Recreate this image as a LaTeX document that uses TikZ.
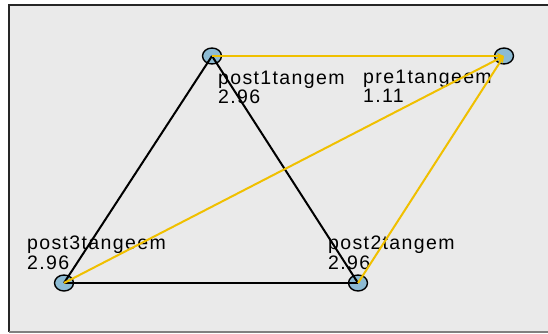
\documentclass[tikz,border=0pt]{standalone}
\usepackage{fontspec}
\setmainfont{Liberation Sans}[LetterSpace=7]
\usetikzlibrary{arrows.meta}
\definecolor{bgray}{HTML}{EAEAEA}
\definecolor{nodeblue}{HTML}{8DBBD3}
\definecolor{edgeyellow}{HTML}{F0C000}
\tikzset{
  vert/.style={ellipse, draw=black, line width=1.4pt, fill=nodeblue, minimum width=19pt, minimum height=16pt, inner sep=0pt},
  lbl/.style={anchor=base west, inner sep=0pt, font=\fontsize{19.5}{20}\selectfont},
  blackedge/.style={draw=black, line width=2pt},
  yeledge/.style={draw=edgeyellow, line width=2pt, -{Stealth[length=7pt,width=6pt]}},
}
\usetikzlibrary{shapes.geometric}
\begin{document}
\begin{tikzpicture}[x=1pt,y=-1pt]
\useasboundingbox (0,0) rectangle (548,334);
\fill[bgray] (9,5) rectangle (548,332);
\draw[line width=1.5pt, black!85] (548,5) -- (9,5) -- (9,332);
\draw[line width=1.5pt, black!50] (9,332) -- (548,332);
\node[vert] (post1) at (212,56) {};
\node[vert] (pre1) at (504,56) {};
\node[vert] (post3) at (64,283) {};
\node[vert] (post2) at (358,283) {};
\node[lbl] (l1a) at (218,85) {post1tangem};
\node[lbl] (l1b) at (218,103.5) {2.96};
\node[lbl] (l2a) at (363,84) {pre1tangeem};
\node[lbl] (l2b) at (363,102.5) {1.11};
\node[lbl] (l3a) at (27,249) {post3tangeem};
\node[lbl] (l3b) at (27,269) {2.96};
\node[lbl] (l4a) at (328,249) {post2tangem};
\node[lbl] (l4b) at (328,269) {2.96};
\draw[blackedge] (post3.center) -- (post1.center);
\draw[blackedge] (post1.center) -- (post2.center);
\draw[blackedge] (post3.center) -- (post2.center);
\draw[yeledge] (post1.center) -- (pre1.center);
\draw[yeledge] (post3.center) -- (pre1.center);
\draw[yeledge] (post2.center) -- (pre1.center);
\end{tikzpicture}
\end{document}
